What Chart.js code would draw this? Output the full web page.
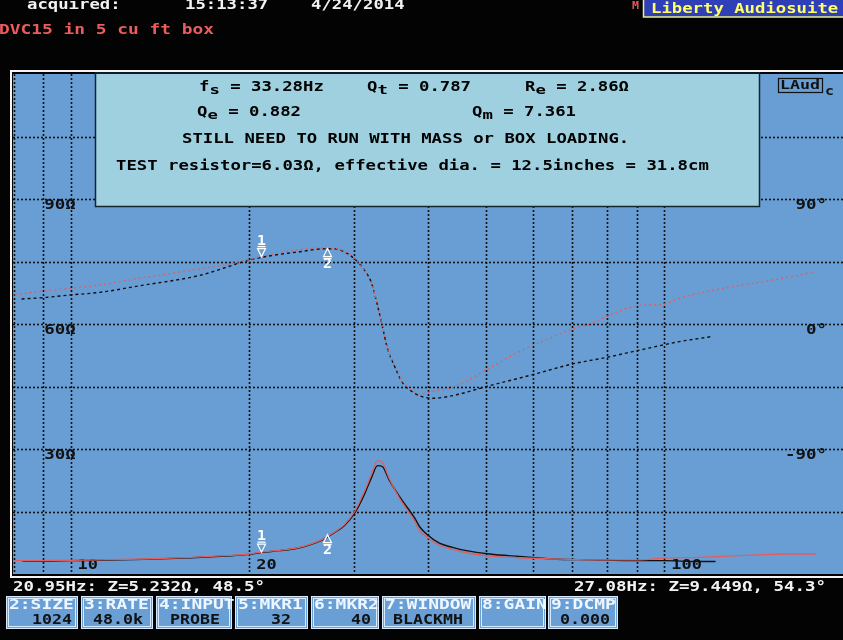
<!DOCTYPE html>
<html>
<head>
<meta charset="utf-8">
<script src="https://cdn.jsdelivr.net/npm/chart.js@4/dist/chart.umd.min.js"></script>
<style>
  html, body { margin: 0; padding: 0; background: #000; }
  canvas { display: block; }
</style>
</head>
<body>
<canvas id="zChart" width="843" height="640"></canvas>
<script>
// impedance, black trace (Hz / ohm)
const impBlackFreq = [8.3, 9, 10, 11.2, 13.3, 16, 18.2, 20, 21, 22.5, 24.3, 26.3, 27.8, 28.9, 30.1, 31.3, 32.1, 32.9, 33.5, 34.4, 35.8, 36.8, 38, 38.7, 39.9, 41.8, 44, 46.4, 50.8, 57, 64.8, 74.8, 90.8, 100, 114, 122];
const impBlack = [3.1, 3.1, 3.2, 3.3, 3.5, 3.9, 4.3, 4.7, 5.2, 5.6, 6.3, 7.9, 9.9, 11.6, 14.6, 19.3, 23.0, 26.0, 25.8, 22.6, 18.6, 16.2, 13.4, 11.4, 9.4, 7.4, 6.4, 5.6, 4.8, 4.2, 3.6, 3.4, 3.2, 3.2, 3.0, 3.0];

// impedance, red trace
const impRedFreq = [8.05, 10, 11.2, 13.3, 16, 18.2, 20, 21, 22.5, 24.3, 26.3, 27.8, 28.9, 30.1, 31.3, 32.1, 32.9, 33.5, 34.4, 35.8, 36.8, 38, 38.7, 39.9, 41.8, 44, 46.4, 50.8, 57, 64.8, 74.8, 90.8, 100, 114, 143, 160, 180];
const impRed = [3.2, 3.3, 3.4, 3.6, 4.0, 4.4, 4.8, 5.3, 5.7, 6.4, 8.0, 10.0, 11.8, 15.0, 20.0, 23.8, 27.2, 26.8, 23.0, 18.2, 15.6, 12.6, 10.4, 8.8, 6.9, 5.9, 5.1, 4.3, 3.9, 3.6, 3.4, 3.4, 3.8, 4.0, 4.6, 4.8, 4.8];

// phase, black trace (Hz / degrees)
const phBlackFreq = [8.27, 9, 10, 11.2, 13.1, 16.5, 20, 21.6, 24.3, 26.3, 27.8, 28.9, 30.1, 31.3, 32.1, 32.9, 33.4, 34.2, 35.1, 36.2, 37.7, 38.7, 40.7, 44, 50.2, 60, 70, 80, 90, 100, 106, 120];
const phBlack = [18, 19, 20.9, 22.8, 27.6, 35, 46, 49, 52, 54, 54.2, 52, 46.8, 38.4, 30, 13, 1.2, -18, -30, -42, -49, -51.6, -53.5, -51.6, -45, -36.5, -28.8, -24, -19.2, -14.9, -12.7, -9.1];

// phase, red trace
const phRedFreq = [8.05, 9, 10, 11.2, 13.1, 16.5, 20, 21.6, 24.3, 26.3, 27.8, 28.9, 30.1, 31.3, 32.1, 32.9, 33.4, 34.2, 35.1, 36.2, 37.7, 38.7, 40.7, 44, 50.2, 56.3, 60, 70, 74.8, 80, 90, 100, 106, 124, 144.5, 169, 179];
const phRed = [21, 23.8, 25.7, 28.1, 33, 39.6, 46.3, 49.7, 53.6, 54.7, 54.5, 52.5, 47, 38, 30, 13, 1, -18, -30, -41, -48, -50.4, -48.5, -45.6, -33, -21, -15.6, -3.6, 0, 5.5, 13.2, 14.4, 18.5, 25.2, 30, 35.3, 37.7];

// axes
const freqGrid = [8, 9, 10, 20, 30, 40, 50, 60, 70, 80, 90, 100];
const freqLabels = [10, 20, 100];
const ohmGrid = [15, 30, 45, 60, 75, 90, 105];
const ohmLabels = [90, 60, 30];
const degLabels = [90, 0, -90];

// markers
const markerFreq = [20.95, 27.08];
const markerZ = [5.232, 9.449];
const markerPhase = [48.5, 54.3];

// bottom buttons
const btnLabels = ['2:SIZE', '3:RATE', '4:INPUT', '5:MKR1', '6:MKR2', '7:WINDOW', '8:GAIN', '9:DCMP'];
const btnValues = ['1024', '48.0k', 'PROBE', '32', '40', 'BLACKMH', '', '0.000'];

const toXY = (xs, ys) => xs.map((f, i) => ({ x: f, y: ys[i] }));

function txt(ctx, s, x, y, o = {}) {
    const size = o.size || 14, adv = o.adv || 10.4;
    ctx.save();
    ctx.font = `bold ${size}px "DejaVu Sans Mono", monospace`;
    ctx.fillStyle = o.color || '#000';
    ctx.textBaseline = 'middle';
    ctx.textAlign = 'left';
    const w = ctx.measureText(s).width || 1;
    const sx = (adv * s.length) / w;
    let x0 = x;
    if (o.align === 'right') x0 = x - adv * s.length;
    else if (o.align === 'center') x0 = x - adv * s.length / 2;
    ctx.translate(x0, y);
    ctx.scale(sx, 1);
    ctx.fillText(s, 0, 0);
    ctx.restore();
}

function subTxt(ctx, main, sub, rest, x, y) {
    txt(ctx, main, x, y);
    txt(ctx, sub, x + 10.4, y + 4, { size: 13 });
    txt(ctx, rest, x + 20.8, y);
}

const backdrop = {
    id: 'backdrop',
    beforeDraw(chart) {
        const { ctx, chartArea: a, scales } = chart;
        ctx.save();
        ctx.fillStyle = '#030303';
        ctx.fillRect(0, 0, chart.width, chart.height);
        ctx.fillStyle = '#689ed4';
        ctx.fillRect(a.left, a.top, a.right - a.left, a.bottom - a.top);

        // frame
        ctx.strokeStyle = '#f4f4f4';
        ctx.lineWidth = 2;
        ctx.beginPath();
        ctx.moveTo(843, a.top - 3);
        ctx.lineTo(a.left - 2, a.top - 3);
        ctx.lineTo(a.left - 2, a.bottom + 3);
        ctx.lineTo(843, a.bottom + 3);
        ctx.stroke();

        // dotted grid
        ctx.strokeStyle = '#111';
        ctx.lineWidth = 1.6;
        ctx.setLineDash([2, 2]);
        freqGrid.forEach(f => {
            const x = Math.max(Math.round(scales.x.getPixelForValue(f)), a.left + 1) + 0.5;
            ctx.beginPath();
            ctx.moveTo(x, a.top);
            ctx.lineTo(x, a.bottom);
            ctx.stroke();
        });
        ohmGrid.forEach(v => {
            const y = Math.round(scales.y.getPixelForValue(v)) + 0.5;
            ctx.beginPath();
            ctx.moveTo(a.left, y);
            ctx.lineTo(a.right, y);
            ctx.stroke();
        });
        ctx.setLineDash([]);

        // axis labels inside the plot
        const x9 = scales.x.getPixelForValue(9);
        ohmLabels.forEach(v => {
            txt(ctx, v + 'Ω', x9 + 1, scales.y.getPixelForValue(v) + 6, { size: 14, color: '#111', adv: 10.5 });
        });
        degLabels.forEach(v => {
            txt(ctx, v + '°', 827, scales.y2.getPixelForValue(v) + 6, { size: 14, color: '#111', adv: 10.5, align: 'right' });
        });
        freqLabels.forEach(f => {
            txt(ctx, String(f), scales.x.getPixelForValue(f) + 7, a.bottom - 9, { size: 14, color: '#111', adv: 10.2 });
        });
        ctx.restore();
    },
    afterDatasetsDraw(chart) {
        const { ctx, scales } = chart;
        ctx.save();

        // markers
        ctx.strokeStyle = '#fff';
        ctx.lineWidth = 1.2;
        markerFreq.forEach((f, i) => {
            const x = Math.round(scales.x.getPixelForValue(f)) + 0.5;
            [scales.y.getPixelForValue(markerZ[i]), scales.y2.getPixelForValue(markerPhase[i])].forEach(yt => {
                ctx.beginPath();
                if (i === 0) {
                    ctx.moveTo(x - 4, yt - 8);
                    ctx.lineTo(x + 4, yt - 8);
                    ctx.lineTo(x, yt);
                    ctx.closePath();
                    ctx.moveTo(x - 4, yt - 10);
                    ctx.lineTo(x + 4, yt - 10);
                    ctx.stroke();
                    txt(ctx, '1', x, yt - 15.5, { size: 14, color: '#fff', adv: 9, align: 'center' });
                } else {
                    ctx.moveTo(x - 4, yt + 8);
                    ctx.lineTo(x + 4, yt + 8);
                    ctx.lineTo(x, yt);
                    ctx.closePath();
                    ctx.moveTo(x - 4, yt + 10);
                    ctx.lineTo(x + 4, yt + 10);
                    ctx.stroke();
                    txt(ctx, '2', x, yt + 15.5, { size: 14, color: '#fff', adv: 9, align: 'center' });
                }
            });
        });

        // parameter box
        ctx.fillStyle = '#9ed0df';
        ctx.fillRect(95, 74, 665, 133);
        ctx.strokeStyle = '#16262c';
        ctx.lineWidth = 1.5;
        ctx.strokeRect(95.5, 73, 664, 133.5);
        subTxt(ctx, 'f', 's', ' = 33.28Hz', 199, 87);
        subTxt(ctx, 'Q', 't', ' = 0.787', 367, 87);
        subTxt(ctx, 'R', 'e', ' = 2.86Ω', 525, 87);
        subTxt(ctx, 'Q', 'e', ' = 0.882', 197, 112);
        subTxt(ctx, 'Q', 'm', ' = 7.361', 472, 112);
        txt(ctx, 'STILL NEED TO RUN WITH MASS or BOX LOADING.', 182, 139);
        txt(ctx, 'TEST resistor=6.03Ω, effective dia. = 12.5inches = 31.8cm', 116, 166);

        // LAud tag
        ctx.strokeStyle = '#111';
        ctx.lineWidth = 1.2;
        ctx.strokeRect(778.5, 78.5, 44, 14);
        txt(ctx, 'LAud', 780, 85.5, { size: 13, color: '#111', adv: 10 });
        txt(ctx, 'c', 825, 92, { size: 12, color: '#111', adv: 9 });

        // header
        txt(ctx, 'acquired:', 27, 5, { color: '#f2f2f2' });
        txt(ctx, '15:13:37', 185, 5, { color: '#f2f2f2' });
        txt(ctx, '4/24/2014', 311, 5, { color: '#f2f2f2' });
        txt(ctx, 'M', 632, 6, { size: 10, color: '#e85858', adv: 7 });
        ctx.fillStyle = '#2f3fb8';
        ctx.fillRect(643, 0, 200, 17);
        ctx.strokeStyle = '#f0f080';
        ctx.lineWidth = 1.5;
        ctx.strokeRect(643.5, -1, 201, 18);
        txt(ctx, 'Liberty Audiosuite', 651, 9, { color: '#ffff66' });
        txt(ctx, 'DVC15 in 5 cu ft box', -1, 30, { color: '#ec5c5c', adv: 10.75 });

        // status line
        txt(ctx, '20.95Hz: Z=5.232Ω, 48.5°', 13, 587, { color: '#f2f2f2', adv: 10.5 });
        txt(ctx, '27.08Hz: Z=9.449Ω, 54.3°', 826, 587, { color: '#f2f2f2', adv: 10.5, align: 'right' });

        // buttons
        const boxes = [[6, 78], [81, 153], [156, 232], [235, 308], [311, 379], [382, 476], [479, 546], [548, 618]];
        const valRight = [72, 143, 220, 291, 371, 463, 540, 610];
        boxes.forEach(([l, r], i) => {
            ctx.fillStyle = '#6a9fd6';
            ctx.fillRect(l, 596, r - l, 33);
            ctx.strokeStyle = '#d6ebff';
            ctx.lineWidth = 1;
            ctx.strokeRect(l + 0.5, 596.5, r - l - 1, 32);
            ctx.strokeRect(l + 2.5, 598.5, r - l - 5, 28);
            txt(ctx, btnLabels[i], l + 3, 605, { size: 14, color: '#eef6ff', adv: 10.8 });
            if (btnValues[i]) txt(ctx, btnValues[i], valRight[i], 620, { size: 14, color: '#111', adv: 10, align: 'right' });
        });
        ctx.restore();
    }
};

new Chart(document.getElementById('zChart'), {
    type: 'line',
    data: {
        datasets: [
            {
                label: 'Z ref',
                data: toXY(impRedFreq, impRed),
                yAxisID: 'y',
                borderColor: '#e25e5e',
                borderWidth: 1.3,
                cubicInterpolationMode: 'monotone'
            },
            {
                label: 'Z',
                data: toXY(impBlackFreq, impBlack),
                yAxisID: 'y',
                borderColor: '#111',
                borderWidth: 1.4,
                cubicInterpolationMode: 'monotone'
            },
            {
                label: 'Phase ref',
                data: toXY(phRedFreq, phRed),
                yAxisID: 'y2',
                borderColor: '#e25e5e',
                borderWidth: 1.3,
                borderDash: [2, 3],
                cubicInterpolationMode: 'monotone'
            },
            {
                label: 'Phase',
                data: toXY(phBlackFreq, phBlack),
                yAxisID: 'y2',
                borderColor: '#111',
                borderWidth: 1.4,
                borderDash: [3, 3],
                cubicInterpolationMode: 'monotone'
            }
        ]
    },
    options: {
        responsive: false,
        devicePixelRatio: 1,
        animation: false,
        events: [],
        layout: { padding: { left: 13, top: 74, right: 0, bottom: 66 } },
        elements: { point: { radius: 0 } },
        plugins: { legend: { display: false }, tooltip: { enabled: false } },
        scales: {
            x: { type: 'logarithmic', min: 8, max: 200, display: false },
            y: { type: 'linear', min: 0, max: 120, display: false },
            y2: { type: 'linear', min: -180, max: 180, display: false }
        }
    },
    plugins: [backdrop]
});
</script>
</body>
</html>
